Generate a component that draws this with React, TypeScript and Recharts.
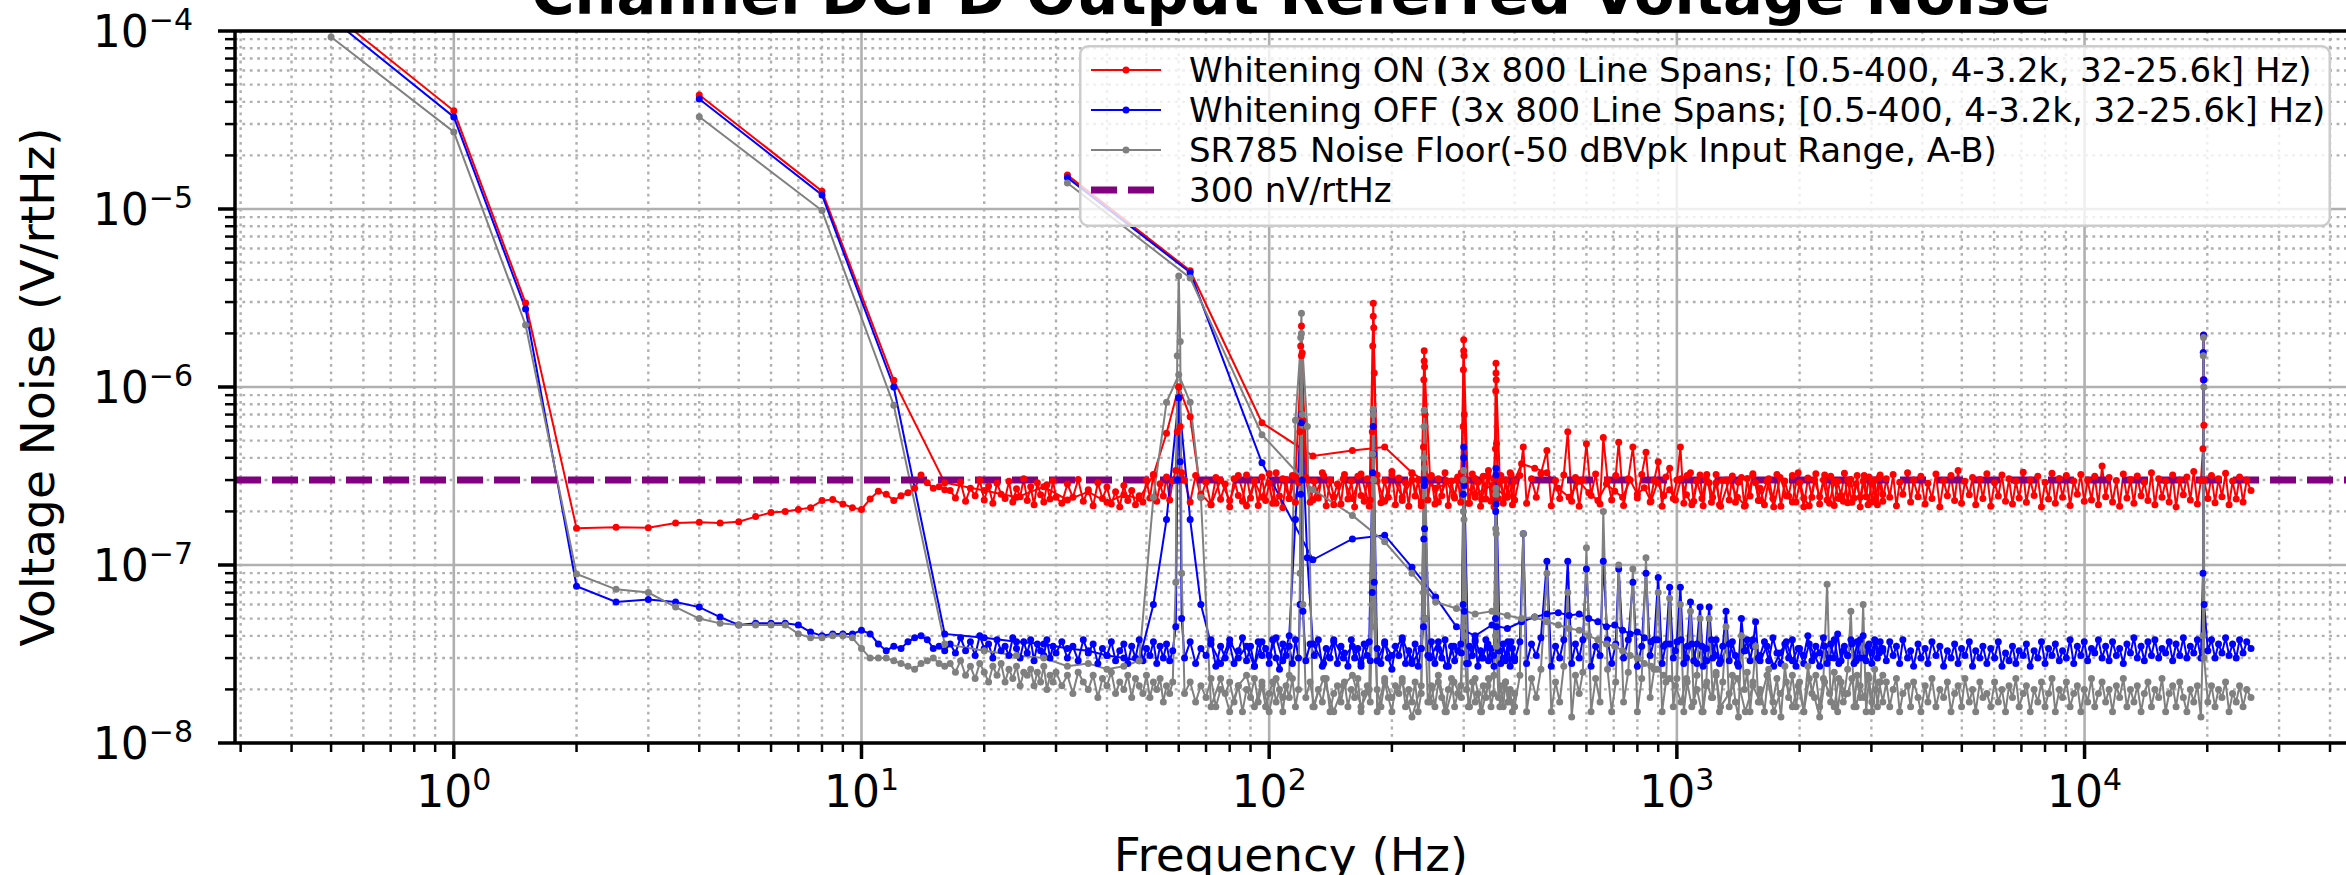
import React from 'react';
import { LineChart, Line, XAxis, YAxis, CartesianGrid, ReferenceLine, Legend } from 'recharts';

const FONT = "'DejaVu Sans', 'Noto Sans', sans-serif";
const RED = '#ff0000';
const BLUE = '#0000ff';
const GRAY = '#808080';
const PURPLE = '#800080';

const TITLE = 'Channel DCPD Output Referred Voltage Noise';
const X_LABEL = 'Frequency (Hz)';
const Y_LABEL = 'Voltage Noise (V/rtHz)';
const SERIES_LABELS = [
  'Whitening ON (3x 800 Line Spans; [0.5-400, 4-3.2k, 32-25.6k] Hz)',
  'Whitening OFF (3x 800 Line Spans; [0.5-400, 4-3.2k, 32-25.6k] Hz)',
  'SR785 Noise Floor(-50 dBVpk Input Range, A-B)',
  '300 nV/rtHz',
];

const REF_LEVEL = 3e-7;
const X_MAJOR = [1, 10, 100, 1000, 10000];
const X_MINOR = [0.3, 0.4, 0.5, 0.6, 0.7, 0.8, 0.9, 2, 3, 4, 5, 6, 7, 8, 9, 20, 30, 40, 50, 60, 70, 80, 90,
  200, 300, 400, 500, 600, 700, 800, 900, 2000, 3000, 4000, 5000, 6000, 7000, 8000, 9000, 20000, 30000, 40000];
const Y_MAJOR = [1e-8, 1e-7, 1e-6, 1e-5, 1e-4];
const Y_MINOR = [2e-8, 3e-8, 4e-8, 5e-8, 6e-8, 7e-8, 8e-8, 9e-8, 2e-7, 3e-7, 4e-7, 5e-7, 6e-7, 7e-7, 8e-7, 9e-7,
  2e-6, 3e-6, 4e-6, 5e-6, 6e-6, 7e-6, 8e-6, 9e-6, 2e-5, 3e-5, 4e-5, 5e-5, 6e-5, 7e-5, 8e-5, 9e-5];
const X_DOMAIN: [number, number] = [0.2906, 44030];
const Y_DOMAIN: [number, number] = [1e-8, 1e-4];

// ---------- Span 1: 0.5 - 400 Hz (0.5 Hz lines) ----------
const SPAN1_FREQ = [
  0.5, 1, 1.5, 2, 2.5, 3, 3.5, 4, 4.5, 5, 5.5, 6, 6.5, 7, 7.5, 8, 8.5, 9, 9.5, 10, 10.5, 11, 11.5, 12, 12.5, 13, 13.5, 14, 14.5, 15, 15.5, 16,
  16.5, 17, 17.5, 18, 18.5, 19, 19.5, 20, 20.5, 21, 21.5, 22, 22.5, 23, 23.5, 24, 24.5, 25, 25.5, 26, 26.5, 27, 27.5, 28, 28.5, 29, 29.5, 30,
  31, 32, 33, 34, 35, 36, 37, 38, 39, 40, 41, 42, 43, 44, 45, 46, 47, 48, 49, 50, 51, 52, 53, 54, 55, 56, 57, 58, 59, 59.5, 60, 60.5, 61,
  62, 64, 66, 68, 70, 72, 74, 76, 78, 80, 82, 84, 86, 88, 90, 92, 94, 96, 98, 100, 102, 104, 106, 108, 110, 112, 114, 116, 118, 119, 119.5, 120, 120.5, 121,
  123, 126, 129, 132, 135, 138, 141, 144, 147, 150, 153, 156, 159, 162, 165, 168, 171, 174, 177, 179, 179.5, 180, 180.5, 181,
  184, 188, 192, 196, 200, 204, 208, 212, 216, 220, 224, 228, 232, 236, 239, 239.5, 240, 240.5, 241,
  245, 250, 255, 260, 265, 270, 275, 280, 285, 290, 295, 299, 299.5, 300, 300.5, 301,
  305, 310, 315, 320, 325, 330, 335, 340, 345, 350, 355, 359, 359.5, 360, 360.5, 361,
  365, 370, 375, 380, 385, 390, 395, 400,
];
// values in nV/rtHz
const RED_SPAN1 = [
  127000, 35600, 2960, 161, 163, 162, 172, 174, 172, 175, 187, 197, 200, 205, 210, 230, 233, 220, 210, 205, 235, 260, 250, 230, 245, 255, 270, 320, 290, 270, 275, 265,
  262, 238, 292, 228, 270, 245, 300, 232, 278, 222, 288, 250, 236, 295, 226, 268, 242, 305, 230, 275, 218, 290, 248, 226, 282, 235, 298, 240,
  222, 285, 240, 302, 228, 265, 215, 290, 236, 274, 220, 258, 212, 280, 230, 262, 218, 245, 226, 300, 238, 322, 228, 286, 244, 312, 232, 296, 340, 560, 1000, 600, 330,
  300, 226, 318, 240, 292, 218, 310, 234, 285, 212, 305, 246, 228, 320, 238, 296, 216, 312, 230, 288, 222, 330, 244, 210, 302, 236, 318, 225, 290, 560, 1700, 2200, 1550, 650,
  310, 225, 295, 238, 330, 215, 300, 242, 285, 220, 322, 235, 296, 212, 315, 246, 228, 305, 232, 560, 1700, 2950, 2150, 1200,
  320, 224, 298, 240, 335, 218, 308, 230, 290, 214, 326, 244, 300, 226, 460, 1100, 1600, 1300, 700,
  232, 318, 220, 305, 245, 330, 216, 296, 238, 312, 225, 600, 1250, 1840, 1500, 700,
  300, 222, 325, 240, 292, 214, 315, 235, 340, 228, 305, 450, 950, 1360, 1100, 480,
  236, 318, 222, 300, 245, 330, 218, 295,
];
const BLUE_SPAN1 = [
  118000, 32900, 2740, 76, 62, 64, 62, 58, 51, 46, 47, 47, 47, 46, 42, 40, 41, 41, 41, 43, 41, 36, 33, 35, 34, 37, 39, 40, 38, 34, 35, 33,
  36, 32, 39, 33, 37, 31, 40, 34, 36, 30, 38, 33, 35, 31, 39, 34, 30, 37, 32, 38, 29, 36, 33, 31, 38, 30, 35, 32,
  37, 30, 35, 29, 38, 32, 36, 28, 34, 31, 37, 29, 33, 36, 28, 35, 30, 38, 29, 34, 31, 37, 28, 35, 30, 36, 29, 33, 45, 300, 870, 380, 50,
  30, 37, 28, 34, 31, 38, 27, 35, 30, 36, 28, 33, 39, 29, 35, 27, 37, 31, 34, 28, 38, 30, 26, 36, 31, 35, 28, 38, 30, 60, 250, 630, 300, 55,
  29, 36, 31, 38, 27, 34, 30, 37, 28, 35, 32, 27, 38, 30, 34, 28, 36, 31, 29, 70, 330, 740, 420, 80,
  34, 28, 37, 30, 26, 35, 31, 38, 28, 33, 29, 36, 27, 34, 45, 140, 300, 160, 50,
  31, 37, 28, 34, 30, 38, 27, 35, 29, 33, 36, 60, 250, 460, 280, 55,
  28, 35, 31, 37, 27, 33, 30, 38, 29, 34, 31, 50, 200, 350, 220, 45,
  33, 28, 36, 30, 37, 27, 34, 30,
];
const GRAY_SPAN1 = [
  92500, 27100, 2230, 89, 73, 70, 58, 50, 47, 46, 46, 46, 46, 41, 39, 39, 40, 40, 39, 34, 30, 30, 30, 29, 28, 27, 26, 28, 29, 30, 28, 27,
  28, 25, 29, 24, 27, 23, 28, 25, 22, 27, 24, 28, 22, 26, 23, 27, 21, 25, 24, 26, 21, 25, 22, 27, 20, 24, 22, 25,
  21, 24, 19, 25, 22, 20, 24, 18, 23, 21, 25, 19, 22, 20, 24, 18, 23, 21, 19, 24, 18, 22, 20, 23, 17, 21, 19, 22, 80, 1500, 4200, 1800, 90,
  19, 22, 17, 21, 18, 23, 16, 20, 19, 22, 17, 21, 15, 20, 18, 23, 17, 21, 16, 19, 22, 17, 20, 15, 21, 18, 23, 16, 20, 90, 1900, 2600, 700, 60,
  18, 22, 16, 20, 17, 23, 15, 19, 21, 17, 22, 16, 20, 18, 23, 15, 19, 21, 17, 60, 420, 750, 300, 45,
  20, 16, 22, 18, 15, 21, 19, 23, 16, 20, 17, 22, 15, 19, 70, 400, 740, 350, 50,
  17, 21, 16, 22, 18, 15, 20, 23, 16, 19, 21, 45, 200, 340, 180, 40,
  20, 16, 22, 17, 19, 15, 21, 18, 23, 16, 19, 40, 160, 270, 150, 35,
  18, 21, 16, 22, 17, 20, 15, 19,
];

// ---------- Span 2: 4 - 3200 Hz (4 Hz lines) ----------
const SPAN2_FREQ = [
  4, 8, 12, 16, 20, 24, 28, 32, 36, 40, 44, 48, 52, 56, 60, 64, 68, 72, 76, 80, 84, 88, 92, 96, 100, 104, 108, 112, 116,
  120, 124, 128, 136, 144, 152, 160, 168, 176, 180, 184, 192, 200, 212, 224, 236, 240, 248, 260, 272, 284, 296, 300, 308, 320, 332, 344, 356, 360, 368, 380, 392,
  400, 412, 420, 428, 440, 452, 464, 480, 492, 504, 516, 528, 540, 552, 564, 576, 588, 600, 616, 632, 648, 660, 676, 692, 708, 720, 740, 760, 780, 800, 820, 840, 860, 880, 900, 920, 940,
  960, 980, 1000, 1020, 1040, 1060, 1080, 1100, 1120, 1140, 1160, 1180, 1200, 1224, 1248, 1272, 1296, 1320, 1344, 1368, 1392, 1416, 1440, 1464, 1488, 1512, 1536, 1560, 1584,
  1600, 1640, 1680, 1720, 1760, 1800, 1840, 1880, 1920, 1960, 2000, 2048, 2096, 2144, 2192, 2240, 2288, 2336, 2384, 2432, 2480, 2528, 2576, 2624, 2672, 2720, 2768, 2816, 2864, 2912, 2960, 3008, 3056, 3104, 3152, 3200,
];
const RED_SPAN2 = [
  43700, 12600, 1090, 290, 262, 240, 275, 232, 258, 225, 248, 236, 320, 550, 1000, 680, 250, 218, 300, 230, 318, 215, 296, 240, 326, 222, 305, 236, 312,
  1500, 300, 232, 318, 218, 305, 236, 325, 214, 2500, 296, 228, 320, 240, 300, 215, 1400, 312, 226, 298, 244, 330, 1600, 222, 306, 234, 318, 212, 1200, 295, 240, 322,
  232, 318, 460, 222, 305, 240, 326, 440, 215, 298, 236, 320, 560, 228, 310, 214, 300, 480, 246, 325, 220, 520, 300, 232, 318, 490, 216, 305, 460, 238, 322, 430, 226, 300, 380, 214, 312,
  350, 236, 300, 460, 222, 318, 330, 228, 296, 320, 215, 305, 290, 240, 322, 218, 298, 300, 232, 316, 225, 292, 310, 214, 306, 244, 326, 290, 230,
  270, 218, 305, 236, 322, 214, 296, 244, 318, 226, 290, 212, 308, 240, 326, 220, 300, 232, 315, 216, 295, 246, 328, 224, 302, 238, 318, 212, 296, 242, 312, 226, 300, 218, 320, 250,
];
const BLUE_SPAN2 = [
  41500, 12000, 1000, 41, 39, 37, 36, 34, 33, 31, 30, 29, 60, 180, 870, 180, 60, 36, 28, 38, 30, 35, 27, 37, 31, 39, 29, 40, 180,
  700, 110, 36, 28, 38, 30, 35, 27, 37, 600, 29, 36, 31, 39, 28, 34, 280, 30, 37, 27, 35, 32, 400, 28, 38, 30, 36, 27, 320, 33, 29, 37,
  29, 37, 150, 28, 36, 31, 39, 105, 27, 35, 30, 38, 105, 28, 36, 30, 38, 95, 27, 35, 31, 105, 38, 28, 36, 95, 30, 38, 80, 27, 35, 90, 31, 38, 85, 28, 36,
  75, 30, 37, 75, 28, 35, 62, 29, 36, 58, 27, 34, 58, 30, 38, 28, 35, 55, 29, 37, 31, 27, 50, 33, 38, 29, 35, 48, 30,
  31, 37, 29, 39, 32, 28, 36, 30, 38, 27, 34, 31, 40, 29, 35, 32, 39, 28, 36, 30, 41, 29, 35, 31, 38, 28, 37, 30, 40, 29, 36, 32, 38, 30, 37, 33,
];
const GRAY_SPAN2 = [
  33000, 9800, 790, 36, 33, 31, 30, 27, 28, 26, 27, 29, 240, 820, 1170, 820, 240, 16, 23, 15, 21, 24, 16, 22, 15, 23, 18, 24, 650,
  2000, 600, 16, 23, 15, 21, 24, 16, 20, 700, 15, 23, 18, 22, 14, 21, 600, 17, 24, 15, 22, 18, 300, 16, 23, 15, 21, 24, 250, 16, 22, 17,
  16, 24, 150, 15, 23, 18, 26, 90, 15, 22, 17, 27, 70, 14, 24, 19, 25, 125, 15, 23, 17, 200, 26, 15, 22, 100, 17, 25, 95, 15, 23, 110, 18, 26, 70, 15, 22,
  65, 16, 23, 60, 15, 22, 55, 17, 24, 50, 15, 21, 50, 18, 25, 15, 22, 45, 16, 24, 17, 14, 40, 20, 25, 15, 22, 35, 17,
  20, 15, 26, 17, 23, 14, 27, 18, 24, 16, 22, 15, 27, 19, 24, 16, 23, 78, 17, 25, 15, 22, 19, 26, 55, 16, 24, 18, 60, 15, 23, 17, 26, 16, 22, 24,
];

// ---------- Span 3: 32 - 25600 Hz (32 Hz lines) ----------
const SPAN3_FREQ = [
  32, 64, 96, 128, 160, 192, 224, 256, 288, 320, 352, 384, 416, 448, 480, 512, 544, 576, 608, 640, 672, 704, 736, 768, 800, 832, 864, 896, 928, 960,
  992, 1024, 1056, 1088, 1120, 1152, 1184, 1216, 1248, 1280,
  1344, 1408, 1472, 1536, 1600, 1664, 1728, 1792, 1856, 1920, 1984, 2048, 2112, 2176, 2240, 2304, 2368, 2432, 2496, 2560,
  2624, 2688, 2752, 2816, 2880, 2944, 3008, 3072, 3136,
  3200, 3264, 3328, 3392, 3456, 3520, 3584, 3680, 3744, 3808,
  3904, 3968, 4064, 4128, 4224, 4320, 4416, 4512, 4608, 4704,
  4800, 4896, 4992, 5088, 5216, 5312, 5408, 5536, 5632, 5760,
  5888, 6016, 6144, 6272, 6400, 6528, 6656, 6784, 6912, 7072,
  7200, 7360, 7520, 7680, 7840, 8000, 8160, 8320, 8480, 8672,
  8832, 9024, 9216, 9408, 9600, 9792, 9984, 10176, 10400, 10592,
  10816, 11040, 11264, 11488, 11712, 11968, 12192, 12448, 12704, 12960,
  13216, 13472, 13760, 14016, 14304, 14592, 14880, 15200, 15488, 15808,
  16128, 16448, 16768, 17120, 17472, 17824, 18176, 18528, 18912, 19296,
  19520, 19552, 19584, 19616, 19648, 20064, 20480, 20896, 21312, 21728,
  22176, 22624, 23072, 23552, 24000, 24480, 24992, 25600,
];
const RED_SPAN3 = [
  15500, 4500, 630, 410, 440, 460, 330, 270, 300, 250, 280, 240, 370, 350, 330, 270, 240, 295, 255, 230, 285, 260, 240, 300, 250, 272, 228, 290, 245, 265,
  232, 305, 248, 218, 295, 236, 322, 225, 290, 214,
  300, 240, 216, 318, 230, 295, 212, 310, 245, 226, 330, 238, 215, 300, 242, 320, 222, 296, 236, 228,
  300, 225, 285, 240, 318, 218, 296, 235, 310,
  228, 305, 240, 322, 215, 292, 250, 330, 226, 300,
  242, 315, 220, 288, 236, 325, 212, 298, 245, 318,
  230, 340, 222, 295, 248, 310, 218, 302, 236, 326,
  214, 290, 244, 320, 228, 305, 220, 296, 238, 332,
  225, 300, 246, 315, 212, 292, 235, 328, 222, 306,
  240, 318, 216, 296, 250, 322, 228, 300, 232, 315,
  218, 360, 242, 310, 226, 298, 214, 325, 238, 302,
  222, 316, 245, 292, 230, 330, 218, 305, 240, 296,
  226, 320, 212, 300, 248, 312, 232, 335, 220, 298,
  450, 1100, 1960, 610, 300, 236, 318, 224, 305, 242,
  328, 218, 296, 235, 312, 226, 300, 262,
];
const BLUE_SPAN3 = [
  15000, 4400, 375, 107, 140, 147, 97, 66, 45, 40, 46, 44, 48, 51, 53, 54, 52, 53, 50, 48, 45, 46, 43, 41, 42, 39, 37, 38, 35, 36,
  33, 38, 30, 36, 28, 35, 29, 38, 31, 29,
  36, 28, 33, 38, 29, 35, 27, 32, 37, 29, 34, 28, 36, 31, 27, 35, 30, 38, 28, 33,
  31, 36, 29, 38, 30, 35, 28, 37, 32,
  34, 29, 37, 31, 35, 28, 38, 30, 33, 27,
  36, 30, 34, 28, 37, 31, 35, 27, 33, 30,
  36, 28, 34, 31, 37, 27, 33, 30, 35, 28,
  34, 30, 37, 27, 32, 29, 35, 28, 33, 31,
  36, 27, 33, 30, 37, 28, 34, 31, 36, 29,
  33, 30, 38, 28, 35, 31, 37, 29, 34, 32,
  38, 30, 35, 29, 37, 31, 34, 28, 36, 32,
  39, 30, 35, 29, 37, 31, 38, 30, 34, 32,
  37, 29, 36, 31, 39, 30, 35, 32, 38, 30,
  90, 1560, 1950, 1100, 60, 33, 38, 30, 36, 32,
  39, 31, 36, 30, 38, 32, 37, 34,
];
const GRAY_SPAN3 = [
  14000, 4100, 540, 265, 190, 135, 90, 62, 57, 53, 55, 52, 50, 51, 48, 46, 44, 43, 40, 38, 36, 35, 33, 31, 30, 28, 27, 26, 24, 23,
  21, 17, 23, 16, 20, 15, 22, 18, 24, 16,
  19, 23, 15, 21, 17, 24, 15, 19, 22, 16, 21, 15, 23, 18, 14, 22, 19, 16, 23, 17,
  19, 23, 16, 21, 18, 24, 15, 20, 22,
  17, 22, 16, 20, 23, 15, 19, 21, 16, 22,
  18, 15, 21, 17, 23, 16, 20, 18, 22, 15,
  19, 21, 16, 23, 17, 20, 15, 22, 18, 19,
  16, 22, 17, 20, 15, 21, 18, 23, 16, 19,
  21, 15, 20, 17, 22, 16, 19, 23, 15, 20,
  18, 22, 16, 19, 21, 15, 20, 17, 23, 16,
  19, 22, 17, 20, 15, 21, 18, 23, 16, 20,
  17, 21, 15, 19, 22, 16, 20, 18, 23, 15,
  19, 21, 16, 22, 18, 15, 20, 17, 21, 14,
  40, 1500, 1900, 1000, 30, 17, 21, 16, 20, 18,
  22, 15, 19, 17, 21, 16, 20, 18,
];

// ---------- layout ----------
const VIEW_W = 2346;
const VIEW_H = 875;
const CHART_W = 2400;
const PLOT_LEFT = 235;
const PLOT_TOP = 31;
const PLOT_RIGHT = 2347;
const X_AXIS_H = 132;
const PLOT_CX = (PLOT_LEFT + PLOT_RIGHT) / 2;

const toPoints = (freqs: number[], nv: number[]) => freqs.map((f, i) => ({ f, v: nv[i] * 1e-9 }));

const SERIES = [
  { id: 'red1', color: RED, data: toPoints(SPAN1_FREQ, RED_SPAN1) },
  { id: 'red2', color: RED, data: toPoints(SPAN2_FREQ, RED_SPAN2) },
  { id: 'red3', color: RED, data: toPoints(SPAN3_FREQ, RED_SPAN3) },
  { id: 'blue1', color: BLUE, data: toPoints(SPAN1_FREQ, BLUE_SPAN1) },
  { id: 'blue2', color: BLUE, data: toPoints(SPAN2_FREQ, BLUE_SPAN2) },
  { id: 'blue3', color: BLUE, data: toPoints(SPAN3_FREQ, BLUE_SPAN3) },
  { id: 'gray1', color: GRAY, data: toPoints(SPAN1_FREQ, GRAY_SPAN1) },
  { id: 'gray2', color: GRAY, data: toPoints(SPAN2_FREQ, GRAY_SPAN2) },
  { id: 'gray3', color: GRAY, data: toPoints(SPAN3_FREQ, GRAY_SPAN3) },
];

const LEGEND_ROWS = [
  { label: SERIES_LABELS[0], color: RED, dashed: false },
  { label: SERIES_LABELS[1], color: BLUE, dashed: false },
  { label: SERIES_LABELS[2], color: GRAY, dashed: false },
  { label: SERIES_LABELS[3], color: PURPLE, dashed: true },
];

const X_TICKS = [...X_MINOR, ...X_MAJOR].sort((a, b) => a - b);
const Y_TICKS = [...Y_MINOR, ...Y_MAJOR].sort((a, b) => a - b);

const expOf = (v: number) => Math.round(Math.log10(v));
const isMajor = (v: number) => Math.abs(Math.log10(v) - expOf(v)) < 1e-6;
const supText = (e: number) => (e < 0 ? '\u2212' + Math.abs(e) : String(e));

const TICK_FONT = 44;
const SUP_FONT = 30;

const renderXTick = (props: any) => {
  const { x, y, payload } = props;
  const v = payload.value;
  const major = isMajor(v);
  return (
    <g>
      <line x1={x} x2={x} y1={y} y2={y + (major ? 16 : 9)} stroke="#000" strokeWidth={major ? 3.5 : 2.5} />
      {major && (
        <text x={x} y={y + 64} textAnchor="middle" fontFamily={FONT} fontSize={TICK_FONT} fill="#000">
          10<tspan fontSize={SUP_FONT} dy={-17}>{supText(expOf(v))}</tspan>
        </text>
      )}
    </g>
  );
};

const renderYTick = (props: any) => {
  const { x, y, payload } = props;
  const v = payload.value;
  const major = isMajor(v);
  return (
    <g>
      <line x1={x - (major ? 17 : 10)} x2={x} y1={y} y2={y} stroke="#000" strokeWidth={major ? 3.5 : 2.5} />
      {major && (
        <text x={x - 42} y={y + 16} textAnchor="end" fontFamily={FONT} fontSize={TICK_FONT} fill="#000">
          10<tspan fontSize={SUP_FONT} dy={-17}>{supText(expOf(v))}</tspan>
        </text>
      )}
    </g>
  );
};

const XAxisLabel = (props: any) => {
  const vb = props.viewBox || { x: PLOT_LEFT, y: 743, width: PLOT_RIGHT - PLOT_LEFT, height: X_AXIS_H };
  return (
    <text x={vb.x + vb.width / 2} y={vb.y + 128} textAnchor="middle" fontFamily={FONT} fontSize={47} fill="#000">
      {X_LABEL}
    </text>
  );
};

const YAxisLabel = (props: any) => {
  const vb = props.viewBox || { x: 0, y: PLOT_TOP, width: PLOT_LEFT, height: 712 };
  const cx = vb.x + 54;
  const cy = vb.y + vb.height / 2;
  return (
    <text x={cx} y={cy} transform={`rotate(-90, ${cx}, ${cy})`} textAnchor="middle" fontFamily={FONT} fontSize={47} fill="#000">
      {Y_LABEL}
    </text>
  );
};

const LegendBox = () => (
  <svg width={1252} height={182} style={{ display: 'block' }}>
    <rect x={1.25} y={1.25} width={1249.5} height={179.5} rx={8} ry={8} fill="#ffffff" fillOpacity={0.8} stroke="#cccccc" strokeWidth={2.5} />
    {LEGEND_ROWS.map((row, i) => {
      const cy = 25 + i * 40;
      return (
        <g key={i}>
          {row.dashed ? (
            <line x1={12} x2={82} y1={cy} y2={cy} stroke={row.color} strokeWidth={7} strokeDasharray="26 11" />
          ) : (
            <g>
              <line x1={12} x2={82} y1={cy} y2={cy} stroke={row.color} strokeWidth={2} />
              <circle cx={47} cy={cy} r={3.5} fill={row.color} />
            </g>
          )}
          <text x={110} y={cy + 12} fontFamily={FONT} fontSize={34} fill="#000">
            {row.label}
          </text>
        </g>
      );
    })}
  </svg>
);

export default function App() {
  return (
    <div style={{ position: 'absolute', left: 0, top: 0, width: VIEW_W, height: VIEW_H, overflow: 'hidden', background: '#ffffff' }}>
      <LineChart
        width={CHART_W}
        height={VIEW_H}
        margin={{ top: PLOT_TOP, right: CHART_W - PLOT_RIGHT, bottom: 0, left: 0 }}
      >
        <CartesianGrid
          horizontalValues={Y_MINOR}
          verticalValues={X_MINOR}
          stroke="#b0b0b0"
          strokeWidth={2.4}
          strokeDasharray="2.8 4.6"
        />
        <CartesianGrid horizontalValues={Y_MAJOR} verticalValues={X_MAJOR} stroke="#b0b0b0" strokeWidth={2.6} />
        <XAxis
          dataKey="f"
          type="number"
          scale="log"
          domain={X_DOMAIN}
          allowDataOverflow
          ticks={X_TICKS}
          interval={0}
          tick={renderXTick}
          tickLine={false}
          tickSize={0}
          tickMargin={0}
          height={X_AXIS_H}
          axisLine={{ stroke: '#000', strokeWidth: 3.5 }}
          label={<XAxisLabel />}
        />
        <YAxis
          dataKey="v"
          type="number"
          scale="log"
          domain={Y_DOMAIN}
          allowDataOverflow
          ticks={Y_TICKS}
          interval={0}
          tick={renderYTick}
          tickLine={false}
          tickSize={0}
          tickMargin={0}
          width={PLOT_LEFT}
          axisLine={{ stroke: '#000', strokeWidth: 3.5 }}
          label={<YAxisLabel />}
        />
        {SERIES.map((s) => (
          <Line
            key={s.id}
            data={s.data}
            dataKey="v"
            type="linear"
            stroke={s.color}
            strokeWidth={2}
            dot={{ r: 3.5, fill: s.color, stroke: s.color, strokeWidth: 0 }}
            activeDot={false}
            isAnimationActive={false}
            legendType="none"
          />
        ))}
        <ReferenceLine y={REF_LEVEL} stroke={PURPLE} strokeWidth={7} strokeDasharray="26 11" ifOverflow="visible" />
        <ReferenceLine y={Y_DOMAIN[1]} stroke="#000" strokeWidth={3.5} ifOverflow="visible" />
        <Legend
          content={<LegendBox />}
          layout="horizontal"
          verticalAlign="middle"
          align="center"
          wrapperStyle={{ left: 1079, top: 45, width: 1252, height: 182, lineHeight: 0 }}
        />
      </LineChart>
      <svg width={VIEW_W} height={40} style={{ position: 'absolute', left: 0, top: 0, pointerEvents: 'none' }}>
        <text x={PLOT_CX} y={14} textAnchor="middle" fontFamily={FONT} fontWeight="bold" fontSize={59} fill="#000">
          {TITLE}
        </text>
      </svg>
    </div>
  );
}
